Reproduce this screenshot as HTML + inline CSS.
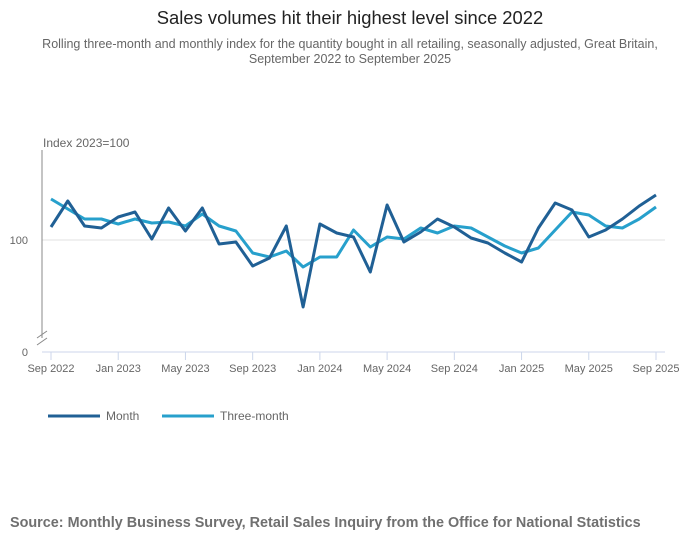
<!DOCTYPE html>
<html><head><meta charset="utf-8"><style>
body{margin:0;background:#fff;font-family:"Liberation Sans",sans-serif;}
#wrap{position:relative;width:700px;height:549px;overflow:hidden;}
</style></head><body>
<div id="wrap">
<svg id="chart" width="700" height="549">
<text x="350" y="24" text-anchor="middle" font-size="18.4" fill="#222">Sales volumes hit their highest level since 2022</text>
<text x="350" y="48" text-anchor="middle" font-size="12.5" fill="#666">Rolling three-month and monthly index for the quantity bought in all retailing, seasonally adjusted, Great Britain,</text>
<text x="350" y="63" text-anchor="middle" font-size="12.5" fill="#666">September 2022 to September 2025</text>
<text x="43" y="147" font-size="12" fill="#666">Index 2023=100</text>
<g id="axes"></g>
<g id="series"></g>
<g>
<line x1="48" y1="416" x2="100" y2="416" stroke="#206095" stroke-width="3"/>
<text x="106" y="420" font-size="12" fill="#666">Month</text>
<line x1="162" y1="416" x2="214" y2="416" stroke="#27a0cc" stroke-width="3"/>
<text x="220" y="420" font-size="12" fill="#666">Three-month</text>
</g>
<text x="10" y="527" font-size="14.4" font-weight="bold" fill="#707070">Source: Monthly Business Survey, Retail Sales Inquiry from the Office for National Statistics</text>
</svg>
</div>
<script>
const tickLabels = ["Sep 2022","Jan 2023","May 2023","Sep 2023","Jan 2024","May 2024","Sep 2024","Jan 2025","May 2025","Sep 2025"];
const monthValues = [101.3,103.9,101.4,101.2,102.3,102.8,100.1,103.2,100.9,103.2,99.6,99.8,97.4,98.2,101.4,93.3,101.6,100.7,100.3,96.8,103.5,99.8,100.8,102.1,101.3,100.2,99.7,98.7,97.8,101.2,103.7,103.0,100.3,101.0,102.1,103.4,104.5];
const threeMonthValues = [104.1,103.1,102.1,102.1,101.6,102.1,101.7,101.8,101.4,102.6,101.4,100.9,98.7,98.3,98.9,97.3,98.3,98.3,101.0,99.3,100.3,100.1,101.2,100.7,101.4,101.2,100.3,99.4,98.7,99.2,101.0,102.8,102.5,101.4,101.2,102.1,103.3];
const NS="http://www.w3.org/2000/svg";
const x0=51, dx=(656-51)/36;
function xScale(i){return x0+i*dx;}
function yScale(v){return 240-(v-100)*10;}
function mk(tag,attrs,parent){const e=document.createElementNS(NS,tag);for(const k in attrs)e.setAttribute(k,attrs[k]);parent.appendChild(e);return e;}
const axes=document.getElementById('axes');
let g=mk('line',{x1:42,y1:yScale(100),x2:665,y2:yScale(100),stroke:'#e2e2e2','stroke-width':1},axes);


let ya=mk('line',{x1:42,y1:150,x2:42,y2:338,stroke:'#888','stroke-width':1},axes);


let br=mk('path',{d:'M37,338 L47,331 M37,345 L47,338',stroke:'#888','stroke-width':1,fill:'none'},axes);


let xa=mk('line',{x1:42,y1:352,x2:665,y2:352,stroke:'#ccd6eb','stroke-width':1},axes);


let l0=mk('text',{x:28,y:356,'font-size':11,fill:'#666','text-anchor':'end'},axes);l0.textContent='0';


let l1=mk('text',{x:28,y:244,'font-size':11,fill:'#666','text-anchor':'end'},axes);l1.textContent='100';


tickLabels.forEach((t,k)=>{const x=xScale(k*4);
 const tk=mk('line',{x1:x,y1:352,x2:x,y2:360,stroke:'#ccd6eb'},axes);
 
 
 const tx=mk('text',{x:x,y:372,'font-size':11,fill:'#666','text-anchor':'middle'},axes);tx.textContent=t;
 
 
});
const series=document.getElementById('series');
function path(vals){return vals.map((v,i)=>(i?'L':'M')+xScale(i).toFixed(1)+','+yScale(v).toFixed(1)).join(' ');}
const p3=mk('path',{d:path(threeMonthValues),stroke:'#27a0cc','stroke-width':3,fill:'none','stroke-linejoin':'round'},series);


const pm=mk('path',{d:path(monthValues),stroke:'#206095','stroke-width':3,fill:'none','stroke-linejoin':'round'},series);


</script>
</body></html>
